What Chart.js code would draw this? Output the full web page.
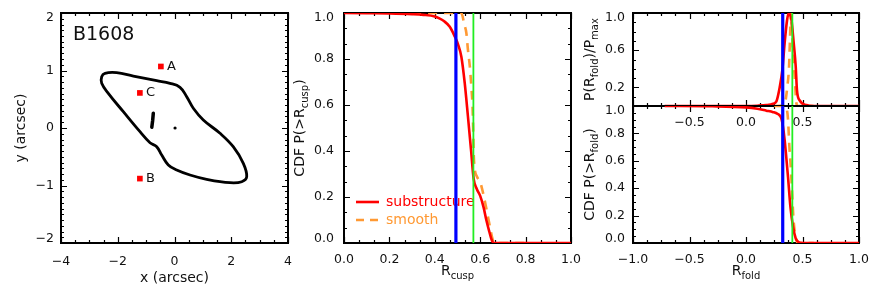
<!DOCTYPE html>
<html>
<head>
<meta charset="utf-8">
<script src="https://cdn.jsdelivr.net/npm/chart.js@4.4.1/dist/chart.umd.min.js"></script>
<style>
  html, body { margin: 0; padding: 0; background: #fff; }
  #wrap { position: relative; width: 872px; height: 290px; }
  canvas { position: absolute; top: 0; }
</style>
</head>
<body>
<div id="wrap">
  <canvas id="lensChart" width="300" height="290" style="left:0"></canvas>
  <canvas id="cuspChart" width="292" height="290" style="left:290px"></canvas>
  <canvas id="foldPdfChart" width="290" height="290" style="left:582px;z-index:1"></canvas>
  <canvas id="foldCdfChart" width="290" height="290" style="left:582px;z-index:2"></canvas>
</div>
<script>
const FONT = '"DejaVu Sans", sans-serif';
const TXT = '#111';
const RED = '#ff0000', ORANGE = '#ff9933', BLUE = '#0000ff', GREEN = '#22ee22';

// panel 1 - lens plane of B1608
const critX = [-1.45, -0.627, -0.159, 0.194, 0.43, 0.663, 1.015, 1.604, 2.07, 2.425, 2.545, 2.37, 1.956, 1.134, 0.546, 0.077, -0.218, -0.451, -0.627, -0.863, -1.216, -1.804, -2.333, -2.566, -2.566, -2.45, -2.04, -1.45];
const critY = [0.904, 0.823, 0.777, 0.708, 0.544, 0.343, 0.139, -0.092, -0.325, -0.614, -0.847, -0.934, -0.951, -0.892, -0.817, -0.73, -0.643, -0.47, -0.325, -0.256, -0.064, 0.284, 0.603, 0.777, 0.892, 0.951, 0.962, 0.904];
const knotX = [-0.747, -0.77, -0.80];
const knotY = [0.256, 0.13, 0.012];
const galaxyX = [0.02];
const galaxyY = [0.0];
const imageNames = ['A', 'B', 'C'];
const imageX = [-0.48, -1.22, -1.22];
const imageY = [1.07, -0.88, 0.61];
const lensXTicks = [-4, -2, 0, 2, 4];
const lensYTicks = [-2, -1, 0, 1, 2];

// panel 2 - cusp relation CDF
const cuspSubX = [0, 0.1, 0.2, 0.3, 0.35, 0.4, 0.42, 0.44, 0.466, 0.488, 0.502, 0.517, 0.532, 0.546, 0.56, 0.571, 0.585, 0.6, 0.615, 0.627, 0.64, 0.65, 0.659, 0.7, 0.8, 0.9, 1.0];
const cuspSubY = [1.0, 0.999, 0.998, 0.995, 0.992, 0.985, 0.977, 0.965, 0.94, 0.898, 0.865, 0.81, 0.694, 0.55, 0.4, 0.28, 0.235, 0.205, 0.155, 0.1, 0.05, 0.015, 0.0, 0, 0, 0, 0];
const cuspSmoothX = [0.3, 0.517, 0.53, 0.539, 0.546, 0.554, 0.561, 0.566, 0.569, 0.571, 0.575, 0.585, 0.6, 0.612, 0.625, 0.635, 0.645, 0.655, 0.665, 0.8];
const cuspSmoothY = [1.0, 1.0, 0.95, 0.913, 0.84, 0.77, 0.68, 0.6, 0.5, 0.4, 0.33, 0.29, 0.265, 0.22, 0.16, 0.11, 0.06, 0.015, 0, 0];
const cuspBlue = 0.493;
const cuspGreen = 0.57;
const cuspTicks = [0, 0.2, 0.4, 0.6, 0.8, 1.0];
const seriesNames = ['substructure', 'smooth'];

// panel 3 - fold relation PDF (top) and CDF (bottom)
const foldPdfSubX = [-0.72, 0.0, 0.1, 0.18, 0.24, 0.269, 0.298, 0.322, 0.342, 0.363, 0.378, 0.39, 0.402, 0.422, 0.44, 0.451, 0.475, 0.535, 0.6, 1.0];
const foldPdfSubY = [0, 0, 0.003, 0.01, 0.025, 0.05, 0.2, 0.39, 0.68, 0.92, 1.0, 0.98, 0.93, 0.678, 0.425, 0.17, 0.06, 0.01, 0, 0];
const foldPdfSmoothX = [0.25, 0.34, 0.351, 0.365, 0.381, 0.39, 0.398, 0.402, 0.415, 0.431, 0.446, 0.46, 0.6];
const foldPdfSmoothY = [0, 0.01, 0.065, 0.2, 0.425, 0.75, 1.0, 0.93, 0.62, 0.317, 0.03, 0, 0];
const foldCdfSubX = [-0.72, -0.3, 0.0, 0.1, 0.18, 0.24, 0.27, 0.3, 0.313, 0.327, 0.342, 0.357, 0.372, 0.393, 0.416, 0.44, 0.46, 0.48, 0.55, 1.0];
const foldCdfSubY = [1.0, 0.998, 0.99, 0.98, 0.966, 0.955, 0.947, 0.93, 0.91, 0.85, 0.75, 0.62, 0.48, 0.265, 0.12, 0.034, 0.01, 0.002, 0, 0];
const foldCdfSmoothX = [0.25, 0.34, 0.36, 0.372, 0.384, 0.395, 0.404, 0.412, 0.419, 0.43, 0.446, 0.46, 0.6];
const foldCdfSmoothY = [1, 1, 0.98, 0.9, 0.703, 0.57, 0.436, 0.3, 0.19, 0.09, 0.02, 0, 0];
const foldBlue = 0.325;
const foldGreen = 0.41;
const foldXTicks = [-1, -0.5, 0, 0.5, 1];
const foldMidLabels = [-0.5, 0, 0.5];
const foldPdfTicks = [0.2, 0.6, 1.0];
const foldCdfTicks = [0, 0.2, 0.4, 0.6, 0.8, 1.0];

const pts = (xs, ys) => xs.map((x, i) => ({ x, y: ys[i] }));
const vline = (x) => [{ x, y: -0.2 }, { x, y: 1.2 }];
const fmt0 = v => (v < 0 ? '\u2212' : '') + Math.abs(v);
const fmt1 = v => (v < 0 ? '\u2212' : '') + Math.abs(v).toFixed(1);

function curve(data, color, width, extra) {
    return Object.assign({
        data, showLine: true, borderColor: color, borderWidth: width,
        pointRadius: 0, fill: false, cubicInterpolationMode: 'monotone'
    }, extra || {});
}

// text with subscripts, centred on (x, y) baseline, optionally rotated
function richText(ctx, segs, x, y, size, rotate, color) {
    ctx.save();
    ctx.translate(x, y);
    if (rotate) ctx.rotate(-Math.PI / 2);
    ctx.fillStyle = color || TXT;
    ctx.textAlign = 'left';
    ctx.textBaseline = 'alphabetic';
    const fonts = segs.map(s => (s[1] ? Math.round(size * 0.68) : size) + 'px ' + FONT);
    const widths = segs.map((s, i) => { ctx.font = fonts[i]; return ctx.measureText(s[0]).width; });
    let cx = -widths.reduce((a, b) => a + b, 0) / 2;
    segs.forEach((s, i) => {
        ctx.font = fonts[i];
        ctx.fillText(s[0], cx, s[1] ? size * 0.28 : 0);
        cx += widths[i];
    });
    ctx.restore();
}

function minorValues(ticks, n, scale) {
    const step = (ticks[1] - ticks[0]) / n;
    const start = Math.ceil((scale.min - 1e-9) / step);
    const out = [];
    for (let i = start; i * step <= scale.max + 1e-9; i++) out.push(i * step);
    return out;
}

function drawAxes(chart, c) {
    const { ctx, chartArea: a } = chart;
    const xs = chart.scales.x, ys = chart.scales.y;
    const L = Math.round(a.left), R = Math.round(a.right);
    const T = Math.round(a.top), B = Math.round(a.bottom);
    ctx.save();
    ctx.strokeStyle = '#000';
    ctx.lineWidth = 2;
    ctx.setLineDash([]);
    ctx.beginPath();
    ctx.rect(L, T, R - L, B - T);
    ctx.stroke();

    ctx.lineWidth = 1.2;
    ctx.beginPath();
    const xMarks = (vals, len) => vals.forEach(v => {
        const p = Math.round(xs.getPixelForValue(v)) + 0.5;
        ctx.moveTo(p, B); ctx.lineTo(p, B - len);
        ctx.moveTo(p, T); ctx.lineTo(p, T + len);
    });
    const yMarks = (vals, len) => vals.forEach(v => {
        const p = Math.round(ys.getPixelForValue(v)) + 0.5;
        ctx.moveTo(L, p); ctx.lineTo(L + len, p);
        ctx.moveTo(R, p); ctx.lineTo(R - len, p);
    });
    xMarks(minorValues(c.xTicks, c.xMinor, xs), 3);
    xMarks(c.xTicks, 6);
    yMarks(minorValues(c.yTicks, c.yMinor, ys), 3);
    yMarks(c.yTicks, 6);
    ctx.stroke();

    ctx.fillStyle = TXT;
    ctx.font = '12.5px ' + FONT;
    ctx.textAlign = 'center';
    ctx.textBaseline = 'middle';
    (c.xLabels || c.xTicks).forEach(v => ctx.fillText(c.fmt(v), xs.getPixelForValue(v), B + c.xLabelDy));
    ctx.textAlign = 'right';
    c.yTicks.forEach(v => {
        const p = Math.min(Math.max(ys.getPixelForValue(v), T + 5), B - 4);
        ctx.fillText(c.fmt(v), L - c.yLabelDx, p);
    });
    ctx.restore();

    if (c.xTitle) richText(ctx, c.xTitle.segs, (L + R) / 2, c.xTitle.y, 14);
    if (c.yTitle) richText(ctx, c.yTitle.segs, c.yTitle.x, (T + B) / 2, 14, true);
    if (c.extra) c.extra(chart);
}

function makeChart(id, datasets, xr, yr, pad, decor) {
    return new Chart(document.getElementById(id), {
        type: 'scatter',
        data: { datasets },
        options: {
            responsive: false,
            animation: false,
            devicePixelRatio: 1,
            events: [],
            layout: { padding: pad },
            scales: {
                x: { type: 'linear', min: xr[0], max: xr[1], display: false },
                y: { type: 'linear', min: yr[0], max: yr[1], display: false }
            },
            plugins: { legend: { display: false }, tooltip: { enabled: false } }
        },
        plugins: [{ id: 'decor', beforeDatasetsDraw: ch => drawAxes(ch, decor) }]
    });
}

// ---- panel 1
makeChart('lensChart', [
    { data: pts(imageX, imageY), pointStyle: 'rect', pointRadius: 4, pointBackgroundColor: RED, pointBorderWidth: 0 },
    { data: pts(galaxyX, galaxyY), pointRadius: 1.6, pointBackgroundColor: '#000', pointBorderWidth: 0 },
    curve(pts(knotX, knotY), '#000', 3.5, { borderCapStyle: 'round', cubicInterpolationMode: 'default' }),
    curve(pts(critX, critY), '#000', 2.8, { cubicInterpolationMode: 'default', tension: 0.4, borderJoinStyle: 'round' })
], [-4, 4], [-2, 2], { left: 61, right: 12, top: 13, bottom: 47 }, {
    xTicks: lensXTicks, xMinor: 4, yTicks: lensYTicks, yMinor: 10, fmt: fmt0,
    xLabelDy: 19, yLabelDx: 7,
    xTitle: { segs: [['x (arcsec)', 0]], y: 282 },
    yTitle: { segs: [['y (arcsec)', 0]], x: 25 },
    extra(chart) {
        const { ctx, chartArea: a, scales: { x, y } } = chart;
        ctx.save();
        ctx.fillStyle = TXT;
        ctx.font = '19px ' + FONT;
        ctx.textBaseline = 'alphabetic';
        ctx.fillText('B1608', a.left + 12, a.top + 27);
        ctx.font = '13px ' + FONT;
        ctx.textBaseline = 'middle';
        imageNames.forEach((n, i) => ctx.fillText(n, x.getPixelForValue(imageX[i]) + 6, y.getPixelForValue(imageY[i])));
        ctx.restore();
    }
});

// ---- panel 2
makeChart('cuspChart', [
    curve(vline(cuspGreen), GREEN, 1.8),
    curve(vline(cuspBlue), BLUE, 3.2),
    curve(pts(cuspSubX, cuspSubY), RED, 2.6),
    curve(pts(cuspSmoothX, cuspSmoothY), ORANGE, 2.6, { borderDash: [9, 7] })
], [0, 1], [0, 1], { left: 54, right: 11, top: 13, bottom: 47 }, {
    xTicks: cuspTicks, xMinor: 3, yTicks: cuspTicks, yMinor: 3, fmt: fmt1,
    xLabelDy: 17, yLabelDx: 10,
    xTitle: { segs: [['R', 0], ['cusp', 1]], y: 275 },
    yTitle: { segs: [['CDF P(>R', 0], ['cusp', 1], [')', 0]], x: 304 - 290 },
    extra(chart) {
        const { ctx, chartArea: a } = chart;
        const colors = [RED, ORANGE];
        ctx.save();
        ctx.font = '14px ' + FONT;
        ctx.textBaseline = 'middle';
        seriesNames.forEach((n, i) => {
            const yy = a.bottom - 41 + i * 18;
            ctx.strokeStyle = colors[i];
            ctx.lineWidth = 2.6;
            ctx.setLineDash(i ? [8, 6] : []);
            ctx.beginPath();
            ctx.moveTo(a.left + 12, yy); ctx.lineTo(a.left + 35, yy);
            ctx.stroke();
            ctx.fillStyle = colors[i];
            ctx.fillText(n, a.left + 42, yy);
        });
        ctx.restore();
    }
});

// ---- panel 3, top: normalised PDF
makeChart('foldPdfChart', [
    curve(vline(foldGreen), GREEN, 1.8),
    curve(vline(foldBlue), BLUE, 3.2),
    curve(pts(foldPdfSubX, foldPdfSubY), RED, 2.6),
    curve(pts(foldPdfSmoothX, foldPdfSmoothY), ORANGE, 2.6, { borderDash: [9, 7] })
], [-1, 1], [0, 1], { left: 51, right: 13, top: 13, bottom: 184 }, {
    xTicks: foldXTicks, xMinor: 4, xLabels: foldMidLabels, yTicks: foldPdfTicks, yMinor: 4, fmt: fmt1,
    xLabelDy: 17, yLabelDx: 8,
    yTitle: { segs: [['P(R', 0], ['fold', 1], [')/P', 0], ['max', 1]], x: 594 - 582 }
});

// ---- panel 3, bottom: CDF
makeChart('foldCdfChart', [
    curve(vline(foldGreen), GREEN, 1.8),
    curve(vline(foldBlue), BLUE, 3.2),
    curve(pts(foldCdfSubX, foldCdfSubY), RED, 2.6),
    curve(pts(foldCdfSmoothX, foldCdfSmoothY), ORANGE, 2.6, { borderDash: [9, 7] })
], [-1, 1], [0, 1], { left: 51, right: 13, top: 106, bottom: 47 }, {
    xTicks: foldXTicks, xMinor: 4, yTicks: foldCdfTicks, yMinor: 4, fmt: fmt1,
    xLabelDy: 17, yLabelDx: 8,
    xTitle: { segs: [['R', 0], ['fold', 1]], y: 275 },
    yTitle: { segs: [['CDF P(>R', 0], ['fold', 1], [')', 0]], x: 594 - 582 }
});
</script>
</body>
</html>
